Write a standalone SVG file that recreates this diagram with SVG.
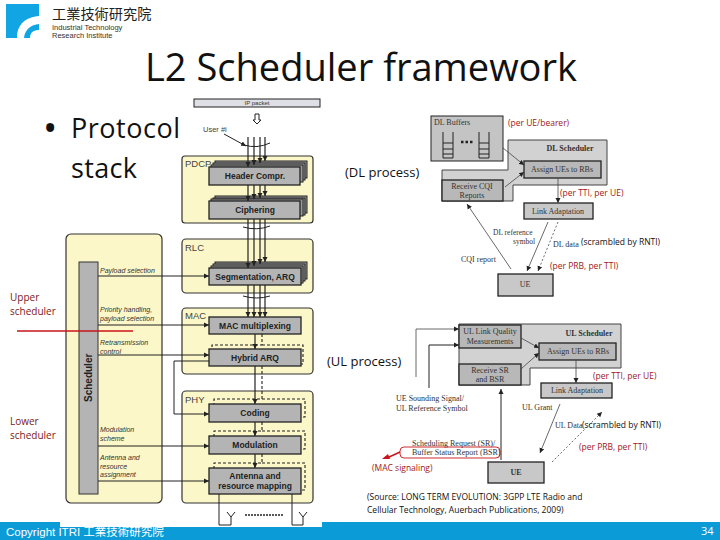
<svg xmlns="http://www.w3.org/2000/svg" width="720" height="540" viewBox="0 0 720 540">
<style>
text{font-family:"Open Sans","Noto Sans","Noto Sans CJK TC",sans-serif;fill:#000}
.sans{font-family:"Liberation Sans","Noto Sans CJK TC",sans-serif}
.red{font-size:8.5px;fill:#a01818}
.blk{font-size:8.5px;fill:#111}
.panel{fill:#fcf7c8;stroke:#333;stroke-width:1.2}
.box{fill:#b4b4b4;stroke:#222;stroke-width:1.3}
.sh{fill:#999;stroke:#222;stroke-width:1}
.lb{font-family:"Liberation Sans",sans-serif;font-weight:bold;font-size:8.5px;fill:#222;text-anchor:middle}
.pn{font-family:"Liberation Sans",sans-serif;font-size:9.5px;fill:#444}
.it{font-family:"Liberation Sans",sans-serif;font-style:italic;font-size:7px;fill:#333}
.rb{fill:#c8c8c8;stroke:#222;stroke-width:1.3}
.rg{fill:#d2d2d2;stroke:#444;stroke-width:1}
.st{font-family:"Liberation Serif",serif;font-size:8px;fill:#333;text-anchor:middle}
.c{fill:none;stroke:#222;stroke-width:1}
.v{fill:none;stroke:#222;stroke-width:1.2}
.g{fill:none;stroke:#444;stroke-width:.8}
.d{fill:none;stroke:#222;stroke-width:1.1;stroke-dasharray:3 2}
</style>
<defs>
<marker id="a" markerWidth="6" markerHeight="6" refX="5" refY="3" orient="auto" markerUnits="userSpaceOnUse"><path d="M0 .5L5 3L0 5.5z" fill="#222"/></marker>
</defs>
<rect width="720" height="540" fill="#fff"/>
<g id="footer">
<rect x="0" y="522" width="720" height="18" fill="#0b9bd7"/>
<rect x="60" y="520" width="262" height="7" fill="#fff"/>
<text x="6" y="536" class="sans" style="font-size:11.5px;fill:#fff">Copyright ITRI 工業技術研究院</text>
<text x="701" y="535" style="font-size:11px;fill:#fff">34</text>
</g>
<g id="logo">
<rect x="6" y="4" width="33" height="34" fill="#12a5e4"/>
<path d="M17 38C17 24 26 17 39 16V24C31 25 25 29 24 38z" fill="#fff"/>
<path d="M30 38C30 32 34 30 39 30V38z" fill="#fff"/>
<text x="52" y="19" style="font-size:14.2px;fill:#222;font-family:'Noto Sans CJK TC',sans-serif">工業技術研究院</text>
<text x="52" y="30" class="sans" style="font-size:7.5px;fill:#333">Industrial Technology</text>
<text x="52" y="38" class="sans" style="font-size:7.5px;fill:#333">Research Institute</text>
</g>
<text id="title" x="145" y="81" style="font-size:38px;fill:#111" textLength="432" lengthAdjust="spacingAndGlyphs">L2 Scheduler framework</text>
<g id="bullet">
<text x="43" y="142" style="font-size:38px;fill:#111">•</text>
<text x="71" y="138" style="font-size:27px;fill:#111" textLength="109">Protocol</text>
<text x="71" y="178" style="font-size:27px;fill:#111" textLength="66">stack</text>
</g>
<g id="left-panels">
<rect class="panel" x="66" y="234" width="96" height="269" rx="5"/>
<rect x="79" y="262" width="19" height="232" fill="#b4b4b4" stroke="#333"/>
<text transform="translate(92,402) rotate(-90)" class="sans" style="font-size:10px;font-weight:bold;fill:#222">Scheduler</text>
<text x="100" y="273" class="it">Payload selection</text>
<text x="100" y="312" class="it">Priority handling,</text>
<text x="100" y="321" class="it">payload selection</text>
<text x="100" y="345" class="it">Retransmission</text>
<text x="100" y="354" class="it">control</text>
<text x="100" y="432" class="it">Modulation</text>
<text x="100" y="441" class="it">scheme</text>
<text x="100" y="460" class="it">Antenna and</text>
<text x="100" y="469" class="it">resource</text>
<text x="100" y="477" class="it">assignment</text>
</g>
<g id="ip-packet">
<rect x="194" y="99" width="126" height="8" fill="#dfe0e6" stroke="#222"/>
<text x="257" y="105" class="sans" style="font-size:6px;fill:#333;text-anchor:middle">IP packet</text>
<path d="M255 114V120H253L257 124L261 120H259V114z" fill="#fff" stroke="#222"/>
<text x="203" y="132" class="sans" style="font-size:7.5px;fill:#444">User #i</text>
</g>
<g id="pdcp">
<rect class="panel" x="182" y="156" width="131" height="67" rx="3"/>
<text x="185" y="167" class="pn">PDCP</text>
<rect class="sh" x="215" y="161" width="92" height="17"/><rect class="sh" x="213" y="163" width="92" height="17"/><rect class="sh" x="211" y="165" width="92" height="17"/>
<rect class="box" x="209" y="167" width="91" height="18"/>
<text x="255" y="179" class="lb">Header Compr.</text>
<rect class="sh" x="215" y="196" width="92" height="17"/><rect class="sh" x="213" y="198" width="92" height="17"/><rect class="sh" x="211" y="199" width="92" height="17"/>
<rect class="box" x="209" y="201" width="91" height="18"/>
<text x="255" y="213" class="lb">Ciphering</text>
</g>
<g id="rlc">
<rect class="panel" x="182" y="239" width="131" height="54" rx="4"/>
<text x="185" y="251" class="pn">RLC</text>
<rect class="sh" x="215" y="262" width="92" height="17"/><rect class="sh" x="213" y="264" width="92" height="17"/><rect class="sh" x="211" y="266" width="92" height="17"/>
<rect class="box" x="209" y="268" width="92" height="17"/>
<text x="255" y="280" class="lb">Segmentation, ARQ</text>
</g>
<g id="mac">
<rect class="panel" x="182" y="308" width="131" height="66" rx="4"/>
<text x="185" y="319" class="pn">MAC</text>
<rect class="box" x="209" y="317" width="92" height="17"/>
<text x="255" y="329" class="lb">MAC multiplexing</text>
<rect class="box" x="209" y="349" width="92" height="17"/>
<text x="255" y="361" class="lb">Hybrid ARQ</text>
</g>
<g id="phy">
<rect class="panel" x="182" y="391" width="131" height="112" rx="4"/>
<text x="185" y="403" class="pn">PHY</text>
<rect class="box" x="209" y="404" width="92" height="18"/>
<text x="255" y="416" class="lb">Coding</text>
<rect class="box" x="209" y="436" width="92" height="18"/>
<text x="255" y="448" class="lb">Modulation</text>
<rect class="box" x="209" y="468" width="92" height="26"/>
<text x="255" y="479" class="lb">Antenna and</text>
<text x="255" y="489" class="lb">resource mapping</text>
</g>
<g id="connectors-left">
<g class="v">
<path marker-end="url(#a)" d="M248 137V167"/><path marker-end="url(#a)" d="M254 137V165"/><path marker-end="url(#a)" d="M260 137V163"/><path marker-end="url(#a)" d="M265 137V161"/>
<path marker-end="url(#a)" d="M248 185V201"/><path marker-end="url(#a)" d="M254 185V199"/><path marker-end="url(#a)" d="M260 185V198"/><path marker-end="url(#a)" d="M265 185V196"/>
<path marker-end="url(#a)" d="M248 219V268"/><path marker-end="url(#a)" d="M254 219V266"/><path marker-end="url(#a)" d="M260 219V264"/><path marker-end="url(#a)" d="M265 219V262"/>
<path marker-end="url(#a)" d="M248 285V317"/><path marker-end="url(#a)" d="M254 285V317"/><path marker-end="url(#a)" d="M260 285V317"/><path marker-end="url(#a)" d="M265 285V317"/>
</g>
<path class="c" marker-end="url(#a)" d="M224 134L246 146"/>
<path class="c" d="M244 145Q257 149 270 143M243 227Q257 231 270 226M243 296Q257 300 270 296"/>
<path class="c" marker-end="url(#a)" d="M98 276H209"/>
<path class="c" marker-end="url(#a)" d="M98 325H209"/>
<path class="c" marker-end="url(#a)" d="M98 355H209"/>
<path class="c" marker-end="url(#a)" d="M98 446H209"/>
<path class="c" marker-end="url(#a)" d="M98 481H209"/>
<path class="c" marker-end="url(#a)" d="M209 361H174V414H209"/>
<path class="v" marker-end="url(#a)" d="M255 334V349"/>
<path class="v" marker-end="url(#a)" d="M255 366V404"/>
<path class="v" marker-end="url(#a)" d="M255 422V436"/>
<path class="v" marker-end="url(#a)" d="M255 454V468"/>
<path class="d" d="M262 334V345H212V349M262 345H303V364H301M262 366V399H214V404M262 399H305V417H301M262 422V431H214V436M262 431H305V449H301M262 454V463H214V468M262 463H305V490H301"/>
<path class="c" d="M219 494V525H231V517M227 512L231 517L235 512M292 494V525H303V517M299 512L303 517L307 512"/>
<path d="M245 515H283" stroke="#222" stroke-width="1.5" stroke-dasharray="2 1" fill="none"/>
</g>
<g id="scheduler-labels">
<text x="10" y="301" class="blk" style="font-size:10px;fill:#7a1818">Upper</text>
<text x="10" y="315" class="blk" style="font-size:10px;fill:#7a1818">scheduler</text>
<text x="10" y="425" class="blk" style="font-size:10px;fill:#7a1818">Lower</text>
<text x="10" y="439" class="blk" style="font-size:10px;fill:#7a1818">scheduler</text>
<path d="M17 331H133" stroke="#c8141a" stroke-width="1.6"/>
</g>
<g id="dl">
<path class="rg" d="M508 140H607V185H513V201H442V170H508z"/>
<rect class="rg" style="fill:#c4c4c4;stroke:#222" x="431" y="116" width="72" height="45"/>
<text x="434" y="125" class="st" style="text-anchor:start">DL Buffers</text>
<path class="c" d="M443 132V158H453V132M443 143H453M443 149H453M443 154H453M479 132V158H489V132M479 143H489M479 149H489M479 154H489"/>
<path d="M461 142H473" stroke="#222" stroke-width="2.5" stroke-dasharray="2.5 2"/>
<text x="570" y="151" class="st" style="font-weight:bold">DL Scheduler</text>
<rect class="rb" x="524" y="161" width="77" height="17" style="fill:#b8b8b8"/>
<text x="562" y="172" class="st">Assign UEs to RBs</text>
<rect class="rb" x="442" y="180" width="61" height="21" style="fill:#b8b8b8"/>
<text x="472" y="189" class="st">Receive CQI</text><text x="472" y="198" class="st">Reports</text>
<rect class="rb" x="524" y="203" width="69" height="16"/>
<text x="558" y="214" class="st">Link Adaptation</text>
<rect class="rb" x="498" y="274" width="55" height="22"/>
<text x="525" y="287" class="st">UE</text>
<path class="g" marker-end="url(#a)" d="M503 148L524 165"/>
<path class="g" marker-end="url(#a)" d="M505 187L524 172"/>
<path class="g" marker-end="url(#a)" d="M558 178V203"/>
<path class="g" marker-end="url(#a)" d="M511 269L467 204"/>
<path class="g" marker-end="url(#a)" d="M548 222L527 271"/>
<path class="g" stroke-dasharray="2 2" marker-end="url(#a)" d="M558 222L538 271"/>
<text x="493" y="235" class="st" style="text-anchor:start;font-size:7.5px">DL reference</text>
<text x="513" y="244" class="st" style="text-anchor:start;font-size:7.5px">symbol</text>
<text x="553" y="247" class="st" style="text-anchor:start">DL data</text>
<text x="461" y="262" class="st" style="text-anchor:start">CQI report</text>
</g>
<g id="ul">
<path class="rg" d="M459 324H621V368H530V385H459z"/>
<rect class="rb" x="459" y="325" width="62" height="23" style="fill:#b8b8b8"/>
<text x="490" y="334" class="st">UL Link Quality</text><text x="490" y="344" class="st">Measurements</text>
<text x="589" y="336" class="st" style="font-weight:bold">UL Scheduler</text>
<rect class="rb" x="539" y="343" width="77" height="17" style="fill:#b8b8b8"/>
<text x="578" y="354" class="st">Assign UEs to RBs</text>
<rect class="rb" x="459" y="364" width="62" height="21" style="fill:#b8b8b8"/>
<text x="490" y="373" class="st">Receive SR</text><text x="490" y="382" class="st">and BSR</text>
<rect class="rb" x="541" y="383" width="71" height="15"/>
<text x="577" y="393" class="st">Link Adaptation</text>
<rect class="rb" x="488" y="462" width="56" height="21"/>
<text x="516" y="475" class="st" style="font-weight:bold">UE</text>
<path class="g" marker-end="url(#a)" d="M521 338L539 348"/>
<path class="g" marker-end="url(#a)" d="M521 369L539 353"/>
<path class="g" marker-end="url(#a)" d="M576 360V383"/>
<path class="g" marker-end="url(#a)" d="M416 377V329H459"/>
<path class="c" marker-end="url(#a)" d="M429 388V345H459"/>
<path class="c" marker-end="url(#a)" d="M501 460V389"/>
<path class="g" marker-end="url(#a)" d="M560 404L540 453"/>
<path class="g" stroke-dasharray="2 2" marker-end="url(#a)" d="M552 462L602 412"/>
<text x="396" y="401" class="st" style="text-anchor:start">UE Sounding Signal/</text>
<text x="396" y="411" class="st" style="text-anchor:start">UL Reference Symbol</text>
<text x="522" y="410" class="st" style="text-anchor:start">UL Grant</text>
<text x="555" y="428" class="st" style="text-anchor:start">UL Data</text>
<text x="412" y="446" class="st" style="text-anchor:start">Scheduling Request (SR)/</text>
<text x="412" y="455" class="st" style="text-anchor:start">Buffer Status Report (BSR)</text>
<rect x="400" y="447" width="100" height="11" rx="4" fill="none" stroke="#c8141a" stroke-width=".9"/>
<path d="M400 452L387 458" stroke="#c8141a" stroke-width="1.4"/>
<path d="M382 459L388 454L390 459z" fill="#c8141a"/>
</g>
<g id="annotations">
<text x="508" y="126" class="red">(per UE/bearer)</text>
<text x="345" y="177" style="font-size:13px;fill:#111">(DL process)</text>
<text x="560" y="196" class="red">(per TTI, per UE)</text>
<text x="581" y="245" class="blk">(scrambled by RNTI)</text>
<text x="550" y="269" class="red">(per PRB, per TTI)</text>
<text x="327" y="366" style="font-size:13px;fill:#111">(UL process)</text>
<text x="593" y="379" class="red">(per TTI, per UE)</text>
<text x="582" y="428" class="blk">(scrambled by RNTI)</text>
<text x="579" y="450" class="red">(per PRB, per TTI)</text>
<text x="372" y="471" class="red">(MAC signaling)</text>
<text x="367" y="500" class="blk">(Source: LONG TERM EVOLUTION: 3GPP LTE Radio and</text>
<text x="367" y="513" class="blk">Cellular Technology, Auerbach Publications, 2009)</text>
</g>
</svg>
